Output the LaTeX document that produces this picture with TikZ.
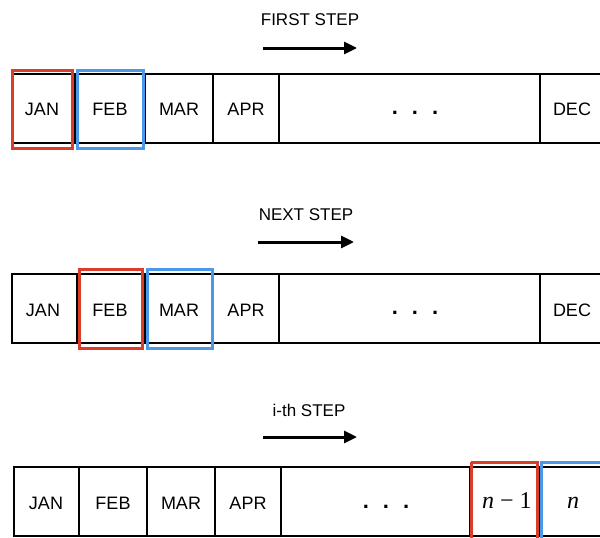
\documentclass[tikz,border=0pt]{standalone}
\usepackage{fontspec}
\setmainfont{Liberation Sans}
\newfontfamily\mserif{Liberation Serif}
\usetikzlibrary{arrows.meta}
\definecolor{selred}{RGB}{218,62,42}
\definecolor{selblue}{RGB}{74,152,234}
\tikzset{
  grid/.style={line width=2pt, black},
  selr/.style={draw=selred, line width=3pt},
  selb/.style={draw=selblue, line width=3pt},
  lbl/.style={font=\fontsize{18}{20}\selectfont, inner sep=0pt},
  ttl/.style={font=\fontsize{17}{19}\selectfont, inner sep=0pt},
  dots/.style={font=\fontsize{22}{24}\selectfont\bfseries, inner sep=0pt},
  mth/.style={font=\mserif\fontsize{24}{26}\selectfont, inner sep=0pt},
  steparrow/.style={line width=3pt, -{Triangle[length=13pt,width=12pt]}},
}
\begin{document}
\begin{tikzpicture}[x=1pt,y=-1pt]
\useasboundingbox (0,0) rectangle (600,538);
% ---------- Row 1 ----------
\draw[grid] (600,74) -- (12,74) -- (12,143) -- (600,143);
\foreach \xx in {75,145,213,279,540} \draw[grid] (\xx,74) -- (\xx,143);
\node[ttl] (t1) at (310,20) {FIRST STEP};
\coordinate (a1s) at (263,48); \coordinate (a1e) at (357,48);
\draw[steparrow] (a1s) -- (a1e);
\node[lbl] (r1jan) at (42,109) {JAN};
\node[lbl] (r1feb) at (110,109) {FEB};
\node[lbl] (r1mar) at (179,109) {MAR};
\node[lbl] (r1apr) at (246,109) {APR};
\node[dots] (r1dots) at (415,113) {.\hspace{14pt}.\hspace{14pt}.};
\node[lbl] (r1dec) at (572,109) {DEC};
\draw[selr] (12,70) rectangle (72,148);
\draw[selb] (77,70) rectangle (143,148);
% ---------- Row 2 ----------
\draw[grid] (600,274) -- (12,274) -- (12,343) -- (600,343);
\foreach \xx in {77,145,213,279,540} \draw[grid] (\xx,274) -- (\xx,343);
\node[ttl] (t2) at (306,215) {NEXT STEP};
\coordinate (a2s) at (258,242); \coordinate (a2e) at (354,242);
\draw[steparrow] (a2s) -- (a2e);
\node[lbl] (r2jan) at (43,310) {JAN};
\node[lbl] (r2feb) at (110,310) {FEB};
\node[lbl] (r2mar) at (179,310) {MAR};
\node[lbl] (r2apr) at (246,310) {APR};
\node[dots] (r2dots) at (415,313) {.\hspace{14pt}.\hspace{14pt}.};
\node[lbl] (r2dec) at (572,310) {DEC};
\draw[selr] (79,269) rectangle (142,348);
\draw[selb] (147,269) rectangle (212,348);
% ---------- Row 3 ----------
\draw[grid] (600,467) -- (14,467) -- (14,536) -- (600,536);
\foreach \xx in {79,147,215,281,470,539} \draw[grid] (\xx,467) -- (\xx,536);
\node[ttl] (t3) at (309,410) {i-th STEP};
\coordinate (a3s) at (263,437); \coordinate (a3e) at (357,437);
\draw[steparrow] (a3s) -- (a3e);
\node[lbl] (r3jan) at (46,503) {JAN};
\node[lbl] (r3feb) at (113,503) {FEB};
\node[lbl] (r3mar) at (181,503) {MAR};
\node[lbl] (r3apr) at (248,503) {APR};
\node[dots] (r3dots) at (386,507) {.\hspace{14pt}.\hspace{14pt}.};
\node[mth, anchor=base] (r3nm1) at (507,508) {{\itshape n} − 1};
\node[mth, anchor=base] (r3n) at (573,508) {{\itshape n}};
\draw[selr] (471,462) -- (471,540) (471,462) -- (537,462) -- (537,540);
\draw[selb] (541,540) -- (541,462) -- (602,462);
\end{tikzpicture}
\end{document}
